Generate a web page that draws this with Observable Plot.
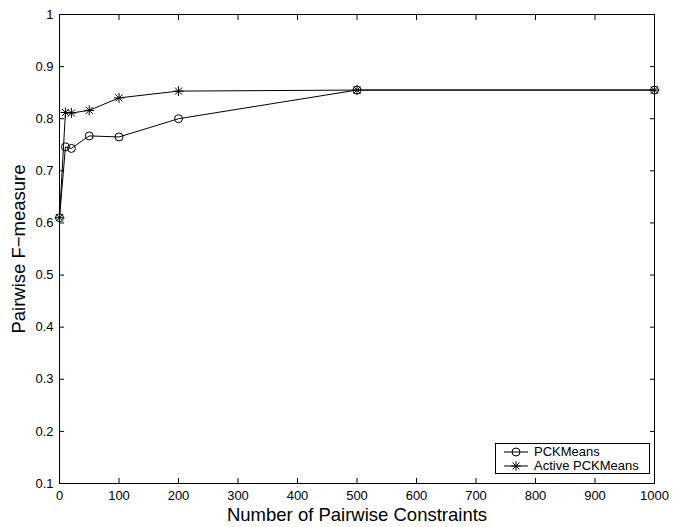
<!DOCTYPE html>
<html><head><meta charset="utf-8">
<script src="https://cdn.jsdelivr.net/npm/d3@7"></script>
<script src="https://cdn.jsdelivr.net/npm/@observablehq/plot@0.6"></script>
<style>
body{margin:0;background:#fff;font-family:"Liberation Sans",Arial,sans-serif;}
#wrap{position:relative;width:673px;height:527px;}
#legend{position:absolute;left:495px;top:443px;width:153px;height:29px;border:1px solid #000;background:#fff;font-size:13px;color:#000;}
#legend .row{position:absolute;left:0;height:15px;line-height:15px;white-space:nowrap;}
#legend svg{position:absolute;left:6px;top:0;}
#legend span{position:absolute;left:38px;top:0;}
</style></head><body><div id="wrap"></div>
<script>
const constraints = [0, 10, 20, 50, 100, 200, 500, 1000];
const pckmeans = [0.61, 0.746, 0.743, 0.767, 0.765, 0.800, 0.855, 0.855];
const activePckmeans = [0.61, 0.812, 0.811, 0.816, 0.840, 0.853, 0.855, 0.855];
const seriesNames = ["PCKMeans", "Active PCKMeans"];
const xTicks = [0, 100, 200, 300, 400, 500, 600, 700, 800, 900, 1000];
const yTicks = [0.1, 0.2, 0.3, 0.4, 0.5, 0.6, 0.7, 0.8, 0.9, 1];
const xLabel = "Number of Pairwise Constraints";
const yLabel = "Pairwise F\u2212measure";

const rowsP = constraints.map((c, i) => ({x: c, y: pckmeans[i], s: seriesNames[0]}));
const rowsA = constraints.map((c, i) => ({x: c, y: activePckmeans[i], s: seriesNames[1]}));
const fmt = d3.format("~g");

const plot = Plot.plot({
  width: 673, height: 527,
  marginLeft: 59, marginRight: 19, marginTop: 14, marginBottom: 44,
  style: {fontFamily: "'Liberation Sans', Arial, sans-serif", fontSize: "13px", background: "#fff", color: "#000"},
  x: {domain: [0, 1000]},
  y: {domain: [0.1, 1]},
  marks: [
    Plot.axisX({anchor: "bottom", ticks: xTicks, tickSize: -5, tickPadding: 12, tickFormat: fmt, label: null}),
    Plot.axisX({anchor: "top", ticks: xTicks, tickSize: -5, tickFormat: () => "", label: null}),
    Plot.axisY({anchor: "left", ticks: yTicks, tickSize: -5, tickPadding: 11, tickFormat: fmt, label: null}),
    Plot.axisY({anchor: "right", ticks: yTicks, tickSize: -5, tickFormat: () => "", label: null}),
    Plot.frame({stroke: "#000"}),
    Plot.line(rowsP, {x: "x", y: "y", stroke: "#000", strokeWidth: 1}),
    Plot.line(rowsA, {x: "x", y: "y", stroke: "#000", strokeWidth: 1}),
    Plot.dot(rowsP, {x: "x", y: "y", symbol: "circle", r: 4, stroke: "#000", fill: "none", strokeWidth: 1}),
    Plot.dot(rowsA, {x: "x", y: "y", symbol: "plus", r: 3.3, stroke: "#000", strokeWidth: 1}),
    Plot.dot(rowsA, {x: "x", y: "y", symbol: "times", r: 3.3, stroke: "#000", strokeWidth: 1}),
    Plot.text([xLabel], {frameAnchor: "bottom", textAnchor: "middle", dy: 24, lineAnchor: "top", fontSize: 18.5, fill: "#000"}),
    Plot.text([yLabel], {frameAnchor: "left", textAnchor: "middle", dx: -40, rotate: -90, lineAnchor: "middle", fontSize: 18.5, fill: "#000"})
  ]
});
const wrap = document.getElementById("wrap");
wrap.appendChild(plot);

// legend
const legend = d3.select(wrap).append("div").attr("id", "legend");
const symbols = [["circle"], ["plus", "times"]];
seriesNames.forEach((name, i) => {
  const row = legend.append("div").attr("class", "row").style("top", (i * 14) + "px").style("width", "153px");
  const svg = row.append("svg").attr("width", 28).attr("height", 15);
  svg.append("line").attr("x1", 2).attr("x2", 26).attr("y1", 8).attr("y2", 8).attr("stroke", "#000");
  symbols[i].forEach(sym => {
    const gen = d3.symbol(sym === "circle" ? d3.symbolCircle : sym === "plus" ? d3.symbolPlus : d3.symbolTimes, sym === "circle" ? 50 : 32);
    svg.append("path").attr("d", gen()).attr("transform", "translate(14,8)").attr("fill", "none").attr("stroke", "#000");
  });
  row.append("span").text(name);
});
</script>
</body></html>
